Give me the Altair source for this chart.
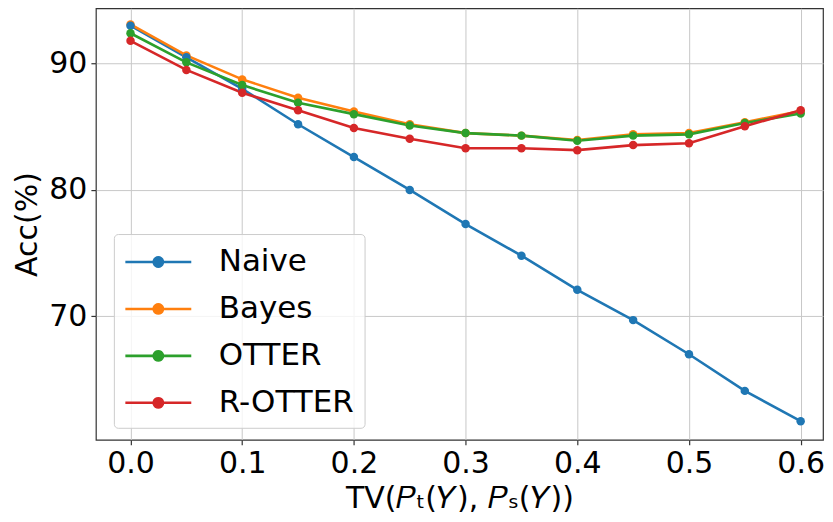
import math
import altair as alt
import pandas as pd

tv = [0.0, 0.05, 0.1, 0.15, 0.2, 0.25, 0.3, 0.35, 0.4, 0.45, 0.5, 0.55, 0.6]
naive = [93.0, 90.5, 88.0, 85.2, 82.6, 80.0, 77.3, 74.8, 72.1, 69.7, 67.0, 64.1, 61.7]
bayes = [93.1, 90.65, 88.75, 87.3, 86.2, 85.2, 84.5, 84.3, 83.95, 84.4, 84.5, 85.35, 86.25]
otter = [92.4, 90.1, 88.3, 86.9, 86.0, 85.1, 84.5, 84.3, 83.9, 84.3, 84.4, 85.3, 86.05]
rotter = [91.8, 89.5, 87.7, 86.3, 84.9, 84.05, 83.3, 83.3, 83.15, 83.55, 83.7, 85.05, 86.3]

methods = ["Naive", "Bayes", "OTTER", "R-OTTER"]
colors = ["#1f77b4", "#ff7f0e", "#2ca02c", "#d62728"]
series = [naive, bayes, otter, rotter]

rows = []
for m, vals in zip(methods, series):
    for xv, yv in zip(tv, vals):
        rows.append({"tv": xv, "acc": yv, "method": m})
df = pd.DataFrame(rows)

# legend glyph: a line with a dot in its middle (polygonal circle)
cx, r = 1.0, 0.28
pts = [(cx + r * math.cos(2 * math.pi * k / 20), r * math.sin(2 * math.pi * k / 20)) for k in range(20)]
dot = "M" + "L".join(f"{px:.3f},{py:.3f}" for px, py in pts) + "Z"
sym = "M-1,0L3,0" + dot

font = "DejaVu Sans"

chart = alt.Chart(df).mark_line(
    point=alt.OverlayMarkDef(filled=True, size=72, opacity=1), strokeWidth=2.6
).encode(
    x=alt.X("tv:Q", scale=alt.Scale(domain=[-0.031, 0.62], nice=False, zero=False),
            axis=alt.Axis(values=[0, 0.1, 0.2, 0.3, 0.4, 0.5, 0.6], format=".1f",
                          title="TV(𝑃ₜ(𝑌), 𝑃ₛ(𝑌))")),
    y=alt.Y("acc:Q", scale=alt.Scale(domain=[60.23, 94.375], nice=False, zero=False),
            axis=alt.Axis(values=[70, 80, 90], title="Acc(%)")),
    color=alt.Color("method:N", scale=alt.Scale(domain=methods, range=colors),
                    legend=alt.Legend(title=None, orient="none", legendX=18, legendY=226,
                                      symbolType=sym, symbolSize=1089, symbolStrokeWidth=2.6,
                                      labelFontSize=31, labelFont=font, labelColor="black",
                                      labelOffset=59, rowPadding=14, padding=10,
                                      strokeColor="#cccccc", cornerRadius=4,
                                      fillColor="rgba(255,255,255,0.8)")),
    order=alt.Order("method:N"),
).properties(
    width=728, height=432,
    padding={"left": 4, "top": 0, "right": 0, "bottom": 0},
).configure_view(
    stroke="#333333", strokeWidth=1.2
).configure_axis(
    labelFont=font, titleFont=font, labelFontSize=30, titleFontSize=30,
    labelColor="black", titleColor="black", titleFontWeight="normal",
    grid=True, gridColor="#c8c8c8", gridWidth=1,
    domain=False, tickColor="#333333", tickSize=5, tickWidth=1.2,
    labelPadding=4,
).configure_axisX(
    titlePadding=5, labelPadding=4
).configure_axisY(
    titlePadding=6
)

chart.save("out.html", embed_options={"renderer": "svg", "actions": False})
